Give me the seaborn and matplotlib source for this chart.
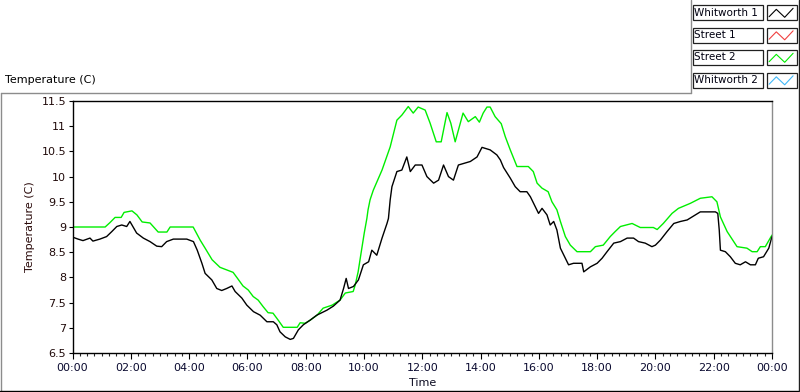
import numpy as np
import pandas as pd
import matplotlib
matplotlib.use("Agg")
import matplotlib.pyplot as plt
import seaborn as sns
from matplotlib.lines import Line2D
from matplotlib.patches import Rectangle
from matplotlib.ticker import MultipleLocator, FixedLocator

# hours since midnight, temperature in C
street2_hours = [0, 1.12, 1.29, 1.46, 1.67, 1.77, 2.04, 2.21, 2.39, 2.66, 2.94, 3.24, 3.35, 4.14,
                 4.38, 4.55, 4.79, 5.06, 5.51, 5.65, 5.85, 6.03, 6.20, 6.37, 6.54, 6.71, 6.88,
                 7.06, 7.23, 7.71, 7.81, 7.98, 8.15, 8.39, 8.60, 8.91, 9.18, 9.36, 9.63, 9.70,
                 9.80, 9.90, 10.01, 10.10, 10.14, 10.21, 10.32, 10.62, 10.90, 11.13, 11.30, 11.52,
                 11.69, 11.86, 12.10, 12.27, 12.48, 12.65, 12.85, 12.98, 13.13, 13.40, 13.58,
                 13.82, 13.96, 14.09, 14.22, 14.33, 14.50, 14.71, 14.85, 15.02, 15.25, 15.64,
                 15.81, 15.94, 16.11, 16.32, 16.45, 16.62, 16.74, 16.91, 17.08, 17.31, 17.77,
                 17.94, 18.21, 18.45, 18.62, 18.80, 19.20, 19.48, 19.93, 20.06, 20.27, 20.57,
                 20.79, 21.20, 21.54, 21.94, 22.11, 22.23, 22.46, 22.80, 23.14, 23.32, 23.49,
                 23.60, 23.77, 24.0]
street2_temp = [9.00, 9.00, 9.09, 9.19, 9.19, 9.29, 9.32, 9.24, 9.10, 9.08, 8.90, 8.90, 9.00, 9.00,
                8.74, 8.58, 8.35, 8.20, 8.10, 7.99, 7.83, 7.75, 7.62, 7.55, 7.42, 7.30, 7.29,
                7.15, 7.01, 7.01, 7.10, 7.09, 7.15, 7.25, 7.39, 7.45, 7.55, 7.69, 7.72, 7.85,
                8.11, 8.48, 8.88, 9.17, 9.34, 9.54, 9.73, 10.13, 10.59, 11.12, 11.22, 11.39,
                11.26, 11.38, 11.32, 11.06, 10.69, 10.69, 11.27, 11.06, 10.69, 11.26, 11.09,
                11.19, 11.08, 11.26, 11.38, 11.38, 11.19, 11.05, 10.79, 10.53, 10.20, 10.20,
                10.10, 9.87, 9.77, 9.70, 9.50, 9.34, 9.11, 8.81, 8.64, 8.51, 8.51,
                8.61, 8.64, 8.81, 8.91, 9.01, 9.07, 8.99, 8.99, 8.95, 9.07, 9.27,
                9.37, 9.47, 9.57, 9.60, 9.50, 9.20, 8.91, 8.61, 8.58, 8.51, 8.51,
                8.61, 8.61, 8.84]

whitworth1_hours = [0, 0.19, 0.36, 0.60, 0.70, 0.94, 1.17, 1.35, 1.52, 1.69, 1.86, 1.97, 2.07,
                    2.20, 2.43, 2.66, 2.89, 3.06, 3.23, 3.46, 3.92, 4.15, 4.28, 4.44, 4.55, 4.78,
                    4.95, 5.12, 5.29, 5.47, 5.58, 5.81, 5.98, 6.21, 6.44, 6.67, 6.89, 7.01, 7.12,
                    7.30, 7.47, 7.58, 7.75, 7.92, 8.15, 8.38, 8.73, 8.95, 9.18, 9.30, 9.39, 9.47,
                    9.64, 9.81, 9.98, 10.16, 10.27, 10.44, 10.62, 10.79, 10.84, 10.90, 10.96,
                    11.13, 11.30, 11.47, 11.59, 11.76, 11.99, 12.16, 12.39, 12.56, 12.73, 12.90,
                    13.07, 13.24, 13.42, 13.65, 13.88, 14.05, 14.33, 14.56, 14.68, 14.79, 15.02,
                    15.19, 15.36, 15.59, 15.71, 15.88, 15.99, 16.11, 16.28, 16.39, 16.51, 16.62,
                    16.74, 16.91, 17.02, 17.19, 17.48, 17.54, 17.77, 18.00, 18.17, 18.34, 18.57,
                    18.80, 19.03, 19.25, 19.42, 19.65, 19.88, 20.00, 20.17, 20.40, 20.63, 20.86,
                    21.09, 21.37, 21.54, 21.83, 22.06, 22.14, 22.19, 22.23, 22.40, 22.57, 22.74,
                    22.91, 23.09, 23.26, 23.43, 23.53, 23.71, 23.89, 24.0]
whitworth1_temp = [8.80, 8.76, 8.73, 8.78, 8.72, 8.76, 8.81, 8.91, 9.01, 9.04, 9.01, 9.11, 9.01,
                   8.88, 8.78, 8.71, 8.62, 8.61, 8.71, 8.76, 8.76, 8.71, 8.54, 8.28, 8.08, 7.95,
                   7.78, 7.74, 7.78, 7.83, 7.72, 7.59, 7.45, 7.32, 7.25, 7.12, 7.12, 7.06, 6.92,
                   6.82, 6.77, 6.79, 6.96, 7.06, 7.15, 7.25, 7.35, 7.43, 7.55, 7.78, 7.98, 7.78,
                   7.82, 7.95, 8.25, 8.31, 8.54, 8.44, 8.78, 9.07, 9.17, 9.54, 9.80,
                   10.10, 10.13, 10.39, 10.10, 10.23, 10.23, 10.00, 9.87, 9.93, 10.23, 10.00,
                   9.93, 10.23, 10.26, 10.30, 10.39, 10.58, 10.53, 10.43, 10.33, 10.18, 9.97,
                   9.80, 9.70, 9.70, 9.60, 9.40, 9.27, 9.37, 9.24, 9.04, 9.11, 8.94,
                   8.58, 8.38, 8.25, 8.28, 8.28, 8.11, 8.21, 8.28, 8.38, 8.51, 8.68,
                   8.71, 8.78, 8.78, 8.71, 8.68, 8.61, 8.64, 8.74, 8.91, 9.07, 9.11,
                   9.14, 9.24, 9.30, 9.30, 9.30, 9.27, 8.94, 8.54, 8.51, 8.41, 8.28,
                   8.25, 8.31, 8.25, 8.25, 8.38, 8.41, 8.58, 8.81]

series_names = ["Whitworth 1", "Street 1", "Street 2", "Whitworth 2"]
series_colors = ["#000000", "#f04040", "#00ee00", "#40b8f8"]
x_tick_hours = list(range(0, 25, 2))
x_tick_labels = ["00:00", "02:00", "04:00", "06:00", "08:00", "10:00", "12:00",
                 "14:00", "16:00", "18:00", "20:00", "22:00", "00:00"]
y_ticks = [6.5, 7, 7.5, 8, 8.5, 9, 9.5, 10, 10.5, 11, 11.5]

df = pd.concat([
    pd.DataFrame({"hour": whitworth1_hours, "temp": whitworth1_temp, "series": "Whitworth 1"}),
    pd.DataFrame({"hour": street2_hours, "temp": street2_temp, "series": "Street 2"}),
])

sns.set_style("white")
plt.rcParams["font.family"] = ["DejaVu Sans"]
plt.rcParams["font.size"] = 8

W, H = 800, 392
fig = plt.figure(figsize=(W / 100, H / 100), dpi=100)
ax = fig.add_axes([72.5 / W, 1 - 353 / H, 699.5 / W, 252 / H])

palette = dict(zip(series_names, series_colors))
sns.lineplot(data=df, x="hour", y="temp", hue="series", palette=palette,
             hue_order=["Street 2", "Whitworth 1"], linewidth=1.0, legend=False, ax=ax)

ax.set_xlim(0, 24)
ax.set_ylim(6.5, 11.5)
ax.xaxis.set_major_locator(FixedLocator(x_tick_hours))
ax.set_xticklabels(x_tick_labels)
ax.xaxis.set_minor_locator(MultipleLocator(0.25))
ax.set_yticks(y_ticks)
ax.set_yticklabels([f"{v:g}" for v in y_ticks])
ax.tick_params(axis="x", which="major", direction="out", length=4, width=0.8, pad=3,
               colors="#000000", labelcolor="#0a0a30", bottom=True)
ax.tick_params(axis="x", which="minor", direction="out", length=2.2, width=0.8, bottom=True)
ax.tick_params(axis="y", direction="out", length=3, width=0.8, pad=1.5,
               colors="#000000", labelcolor="#200a0a", left=True)
for s in ["left", "bottom", "top"]:
    ax.spines[s].set_color("#000000")
    ax.spines[s].set_linewidth(1.0)
ax.spines["right"].set_color("#8c8c8c")
ax.spines["right"].set_linewidth(1.0)
ax.set_xlabel("Time", labelpad=4, color="#0a0a20")
ax.set_ylabel("Temperature (C)", labelpad=5, color="#2a0a0a")

fig.text(5 / W, 1 - 80 / H, "Temperature (C)", ha="left", va="center", color="#000000")

# outer frame
def px_line(x0, y0, x1, y1, color, lw=1.0):
    fig.add_artist(Line2D([x0 / W, x1 / W], [1 - y0 / H, 1 - y1 / H],
                          transform=fig.transFigure, color=color, lw=lw))

px_line(0.5, 92.5, 690.5, 92.5, "#8c8c8c")
px_line(690.5, 0, 690.5, 92.5, "#8c8c8c")
px_line(0.5, 92.5, 0.5, 391, "#8c8c8c")
px_line(0, 390.5, 800, 390.5, "#000000")
px_line(798.5, 0, 798.5, 391, "#202020")

# LabVIEW-style legend
row_tops = [5, 27.5, 50, 72.5]
zig_x = [0.07, 0.31, 0.59, 0.87]
zig_y = [0.22, 0.71, 0.18, 0.78]
for name, color, top in zip(series_names, series_colors, row_tops):
    fig.add_artist(Rectangle((692.5 / W, 1 - (top + 15) / H), 70 / W, 15 / H,
                             transform=fig.transFigure, facecolor="white",
                             edgecolor="#202020", lw=0.9))
    fig.text(694.5 / W, 1 - (top + 7.5) / H, name, ha="left", va="center",
             color="#000010", fontsize=7.5)
    fig.add_artist(Rectangle((767 / W, 1 - (top + 15) / H), 30 / W, 15 / H,
                             transform=fig.transFigure, facecolor="white",
                             edgecolor="#202020", lw=0.9))
    fig.add_artist(Line2D([(767 + 30 * zx) / W for zx in zig_x],
                          [1 - (top + 15 - 15 * zy) / H for zy in zig_y],
                          transform=fig.transFigure, color=color, lw=0.8))

fig.savefig("out.png", dpi=100)
